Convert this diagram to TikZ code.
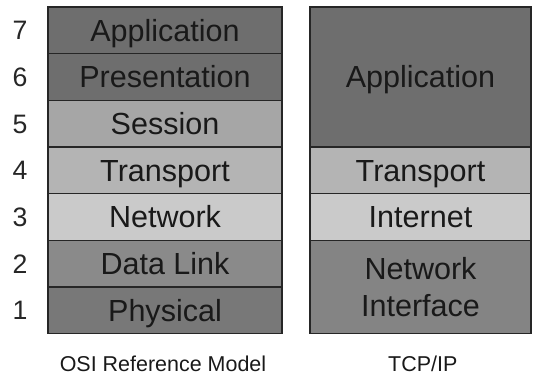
\documentclass[tikz,border=0pt]{standalone}
\usepackage{fontspec}
\setmainfont{Liberation Sans}
\usetikzlibrary{positioning}
\definecolor{dkgray}{HTML}{6E6E6E}
\definecolor{mdgray}{HTML}{8A8A8A}
\definecolor{phgray}{HTML}{787878}
\definecolor{ssgray}{HTML}{A6A6A6}
\definecolor{trgray}{HTML}{B4B4B4}
\definecolor{ltgray}{HTML}{CACACA}
\definecolor{nigray}{HTML}{848484}
\tikzset{
every layer/.style={draw=black!85, line width=1.1pt, inner sep=0pt, outer sep=0pt,
  text=black!90, font=\fontsize{22.9}{27.5}\selectfont, text height=16.4pt, text depth=0pt},
osi/.style={every layer, minimum width=175.5pt, minimum height=35pt},
tcp/.style={every layer, minimum width=165.75pt},
num/.style={font=\fontsize{20}{22}\selectfont, text=black!85, text height=14.3pt, text depth=0pt},
caption/.style={font=\fontsize{16.1}{19}\selectfont, text=black!90, anchor=base},
}

\begin{document}
\begin{tikzpicture}[x=0.75pt, y=-0.75pt]
    \useasboundingbox (0,0) rectangle (533,377);

    \node[osi, fill=dkgray] (l7) at (165,30.35) {Application};
    \node[osi, fill=dkgray, below=0pt of l7] (l6) {Presentation};
    \node[osi, fill=ssgray, below=0pt of l6] (l5) {Session};
    \node[osi, fill=trgray, below=0pt of l5] (l4) {Transport};
    \node[osi, fill=ltgray, below=0pt of l4] (l3) {Network};
    \node[osi, fill=mdgray, below=0pt of l3] (l2) {Data Link};
    \node[osi, fill=phgray, below=0pt of l2] (l1) {Physical};

    \foreach \i in {1,...,7}
        \node[num] (n\i) at (l\i.center -| 20,0) {\i};

    \node[tcp, fill=dkgray, minimum height=105pt] (tapp) at (420.5,77) {Application};
    \node[tcp, fill=trgray, minimum height=35pt, below=0pt of tapp] (ttrans) {Transport};
    \node[tcp, fill=ltgray, minimum height=35pt, below=0pt of ttrans] (tinet) {Internet};
    \node[tcp, fill=nigray, minimum height=70pt, align=center, text height=, text depth=,
        below=0pt of tinet] (tnet) {Network\\Interface};

    \node[caption] (cosi) at (163,372) {OSI Reference Model};
    \node[caption] (ctcp) at (422.8,372) {TCP/IP};
\end{tikzpicture}
\end{document}
